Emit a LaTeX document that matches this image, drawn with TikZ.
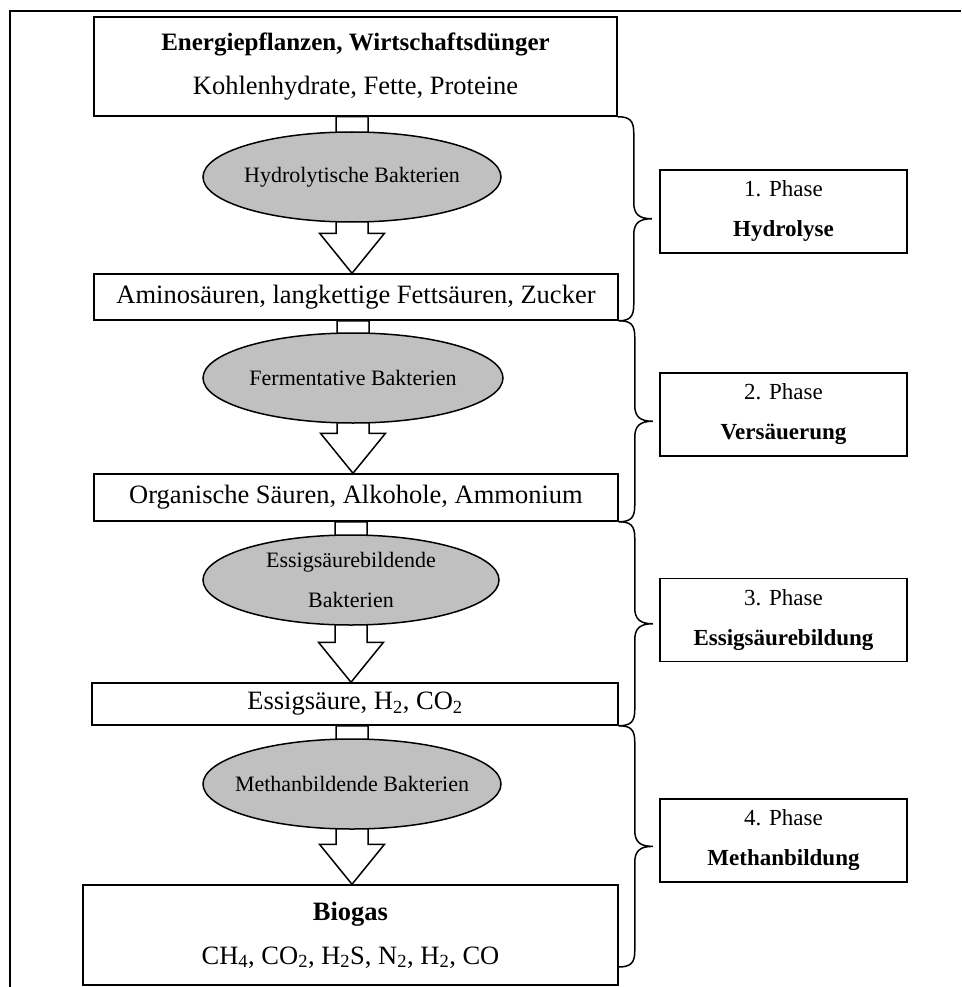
\documentclass[tikz,border=0pt]{standalone}
\usepackage{fontspec}
\setmainfont{Liberation Serif}
\usetikzlibrary{shapes.geometric}
\usetikzlibrary{calc}
\usetikzlibrary{backgrounds}

\definecolor{bactgray}{RGB}{192,192,192}

\tikzset{
  stoff/.style={draw, line width=1.5pt, inner sep=0pt, align=center,
    font=\fontsize{26.5}{44}\selectfont},
  bakt/.style={draw, ellipse, fill=bactgray, line width=1.5pt,
    inner xsep=-40pt, inner ysep=0pt,
    minimum width=298pt, minimum height=90pt, align=center,
    font=\fontsize{22}{40}\selectfont},
  phase/.style={draw, line width=1.5pt, inner sep=0pt, align=center,
    minimum width=247pt, minimum height=83pt,
    font=\fontsize{23}{40}\selectfont},
  fatarrow/.style={draw, fill=white, line width=1.5pt, to path={
    let \p1=(\tikztostart), \p2=(\tikztotarget) in
    (\x2-16pt,\y1) -- (\x2-16pt,\y2+40pt) -- (\x2-32.5pt,\y2+40pt) -- (\p2)
    -- (\x2+32.5pt,\y2+40pt) -- (\x2+16pt,\y2+40pt) -- (\x2+16pt,\y1) -- cycle}},
  klammer/.style={draw, line width=1.5pt, to path={
    let \p1=(\tikztostart), \p2=(\tikztotarget),
        \p3=($(\tikztostart)!.5!(\tikztotarget)$) in
    (\p1) .. controls (\x1+12pt,\y1) and (\x1+16pt,\y1-4pt) .. (\x1+16pt,\y1-16pt)
    -- (\x1+16pt,\y3+16pt) .. controls (\x1+16pt,\y3+4pt) and (\x1+22pt,\y3) .. (\x1+34pt,\y3)
    .. controls (\x1+22pt,\y3) and (\x1+16pt,\y3-4pt) .. (\x1+16pt,\y3-16pt)
    -- (\x1+16pt,\y2+16pt) .. controls (\x1+16pt,\y2+4pt) and (\x1+12pt,\y2) .. (\p2)}}
}

\begin{document}
\begin{tikzpicture}[x=1pt, y=-1pt]
  \useasboundingbox (0,0) rectangle (961,987);
  \draw[line width=1.5pt] (10,987) -- (10,11) -- (961,11);

  % Stoffe
  \node[stoff, minimum width=523pt, minimum height=99pt] (pflanzen) at (355.5,66.5)
    {{\fontsize{25}{44}\selectfont\bfseries Energiepflanzen, Wirtschaftsdünger}\\
     Kohlenhydrate, Fette, Proteine};
  \node[stoff, minimum width=524pt, minimum height=46pt] (amino) at (356,297)
    {Aminosäuren, langkettige Fettsäuren, Zucker};
  \node[stoff, minimum width=524pt, minimum height=47pt] (org) at (356,497.5)
    {Organische Säuren, Alkohole, Ammonium};
  \node[stoff, minimum width=526pt, minimum height=42pt] (essig) at (355,704)
    {Essigsäure, H\textsubscript{2}, CO\textsubscript{2}};
  \node[stoff, minimum width=535pt, minimum height=100pt] (biogas) at (350.5,935)
    {\textbf{Biogas}\\
     CH\textsubscript{4}, CO\textsubscript{2}, H\textsubscript{2}S, N\textsubscript{2}, H\textsubscript{2}, CO};

  % Bakterien
  \node[bakt] (hydbak) at (352,177) {Hydrolytische Bakterien};
  \node[bakt, minimum width=300pt] (fermbak) at (353,378) {Fermentative Bakterien};
  \node[bakt, minimum width=296pt] (essigbak) at (351,580) {Essigsäurebildende\\ Bakterien};
  \node[bakt] (methbak) at (352,784) {Methanbildende Bakterien};

  \begin{scope}[on background layer]
    \draw[fatarrow] (pflanzen.south -| hydbak) to (amino.north -| hydbak);
    \draw[fatarrow] (amino.south -| fermbak) to (org.north -| fermbak);
    \draw[fatarrow] (org.south -| essigbak) to (essig.north -| essigbak);
    \draw[fatarrow] (essig.south -| methbak) to (biogas.north -| methbak);
  \end{scope}

  % Phasen
  \node[phase] (ph1) at (783.5,211.5) {1. Phase\\ \textbf{Hydrolyse}};
  \node[phase] (ph2) at (783.5,414.5) {2. Phase\\ \textbf{Versäuerung}};
  \node[phase] (ph3) at (783.5,620) {3. Phase\\ \textbf{Essigsäurebildung}};
  \node[phase] (ph4) at (783.5,840.5) {4. Phase\\ \textbf{Methanbildung}};

  \coordinate (klende) at (618,967);
  \draw[klammer] (pflanzen.south east) to (amino.south east);
  \draw[klammer] (amino.south east) to (org.south east);
  \draw[klammer] (org.south east) to (essig.south east);
  \draw[klammer] (essig.south east) to (klende);
\end{tikzpicture}
\end{document}
